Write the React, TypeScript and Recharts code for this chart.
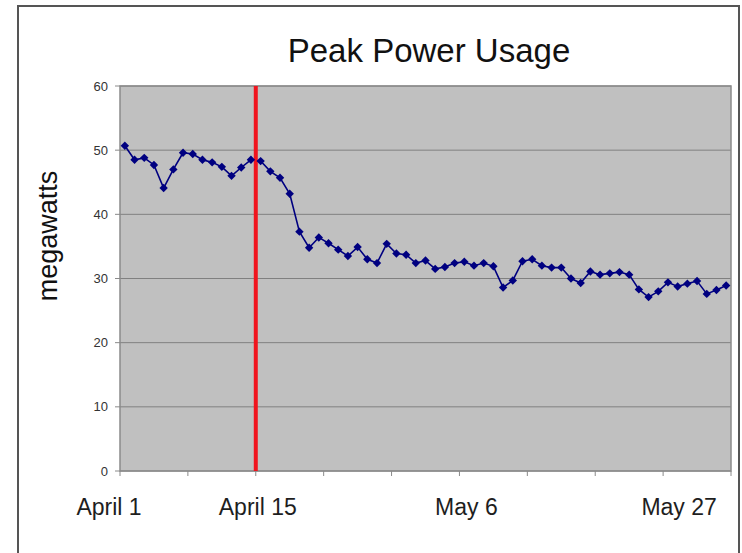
import React from "react";
import {
  LineChart,
  Line,
  XAxis,
  YAxis,
  CartesianGrid,
  ReferenceLine,
  ReferenceArea,
} from "recharts";

// daily peak, April 1 .. June 2 (megawatts)
const peakMw = [
  50.7, 48.5, 48.8, 47.7, 44.1, 47.0, 49.6, 49.4, 48.5, 48.1,
  47.4, 46.0, 47.3, 48.5, 48.3, 46.7, 45.7, 43.2, 37.3, 34.8,
  36.4, 35.5, 34.5, 33.5, 34.9, 33.0, 32.4, 35.4, 33.9, 33.7,
  32.4, 32.8, 31.5, 31.8, 32.4, 32.6, 32.0, 32.4, 31.9, 28.6,
  29.7, 32.7, 33.0, 32.0, 31.7, 31.7, 30.0, 29.3, 31.1, 30.6,
  30.8, 31.0, 30.6, 28.3, 27.1, 28.0, 29.4, 28.75, 29.2, 29.6,
  27.6, 28.2, 28.9,
];

const weekTicks = [0, 7, 14, 21, 28, 35, 42, 49, 56, 63];
const dateLabels: { [key: number]: string } = {
  0: "April 1",
  14: "April 15",
  35: "May 6",
  56: "May 27",
};
const yTicks = [0, 10, 20, 30, 40, 50, 60];
const changeDay = 14;

const data = peakMw.map((mw, i) => ({ day: i + 0.5, mw }));

// the date labels in the original sit a little off their tick marks
const labelShift: { [key: number]: number } = { 0: -11, 14: 2, 35: 7, 56: 16 };

const FONT = "'Liberation Sans', Arial, sans-serif";

const DateTick = (props: any) => {
  const { x, y, payload } = props;
  const label = dateLabels[payload.value];
  if (!label) return <g />;
  return (
    <text
      x={x + (labelShift[payload.value] || 0)}
      y={y + 37}
      textAnchor="middle"
      fontSize={23}
      fill="#1e1e1e"
      fontFamily={FONT}
    >
      {label}
    </text>
  );
};

const Diamond = (props: any) => {
  const { cx, cy, index } = props;
  const r = 4.2;
  return (
    <path
      key={`d-${index}`}
      d={`M${cx},${cy - r}L${cx + r},${cy}L${cx},${cy + r}L${cx - r},${cy}Z`}
      fill="#000080"
    />
  );
};

const App = () => {
  return (
    <div
      style={{
        position: "absolute",
        left: 0,
        top: 0,
        width: 742,
        height: 553,
        background: "#fff",
        overflow: "hidden",
      }}
    >
      <LineChart
        width={742}
        height={553}
        data={data}
        margin={{ top: 86, right: 11, bottom: 0, left: 0 }}
        style={{ fontFamily: FONT }}
      >
        <CartesianGrid vertical={false} fill="#C0C0C0" stroke="#808080" />
        <XAxis
          dataKey="day"
          type="number"
          domain={[0, 63]}
          ticks={weekTicks}
          interval={0}
          height={82}
          axisLine={false}
          tickLine={{ stroke: "#8a8a8a" }}
          tickSize={5}
          tick={<DateTick />}
        />
        <YAxis
          domain={[0, 60]}
          ticks={yTicks}
          width={120}
          axisLine={false}
          tickLine={{ stroke: "#8a8a8a" }}
          tickSize={5}
          tickMargin={7}
          tick={{ fontSize: 13, fill: "#333" }}
        />
        <ReferenceArea
          x1={0}
          x2={63}
          y1={0}
          y2={60}
          fill="none"
          stroke="#8a8a8a"
          strokeWidth={1.5}
        />
        <Line
          type="linear"
          dataKey="mw"
          stroke="#000080"
          strokeWidth={1.6}
          dot={Diamond}
          activeDot={false}
          isAnimationActive={false}
        />
        <ReferenceLine x={changeDay} stroke="#f0141e" strokeWidth={4} />
      </LineChart>
      <svg
        width={742}
        height={553}
        style={{ position: "absolute", left: 0, top: 0, pointerEvents: "none" }}
      >
        <rect
          x={18}
          y={6}
          width={721}
          height={600}
          fill="none"
          stroke="#555"
          strokeWidth={2}
        />
        <text
          x={429}
          y={62}
          textAnchor="middle"
          fontSize={33}
          fill="#111"
          fontFamily={FONT}
        >
          Peak Power Usage
        </text>
        <text
          x={48}
          y={236}
          textAnchor="middle"
          dominantBaseline="central"
          fontSize={27}
          fill="#111"
          fontFamily={FONT}
          transform="rotate(-90 48 236)"
        >
          megawatts
        </text>
      </svg>
    </div>
  );
};

export default App;
